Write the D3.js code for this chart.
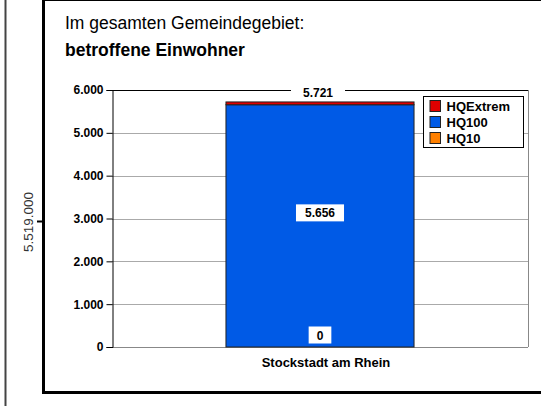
<!DOCTYPE html>
<html>
<head>
<meta charset="utf-8">
<script src="https://cdn.jsdelivr.net/npm/d3@7"></script>
<style>
    body { margin: 0; background: #fff; }
    svg { display: block; font-family: "Liberation Sans", Arial, sans-serif; }
</style>
</head>
<body>
<svg id="chart" width="541" height="406"></svg>
<script>
// Data
const categories = ['Stockstadt am Rhein'];
const seriesNames = ['HQ10', 'HQ100', 'HQExtrem'];
const hq10 = [0];
const hq100 = [5656];
const hqExtrem = [65];
const totals = [5721];
const yTicks = [0, 1000, 2000, 3000, 4000, 5000, 6000];
const sideValue = '5.519.000';

const colors = { HQ10: '#ff8000', HQ100: '#005ae6', HQExtrem: '#e00000' };
const fmt = d3.format(',');
const de = v => fmt(v).replace(/,/g, '.');

const svg = d3.select('#chart');

// Outer frame
svg.append('line').attr('x1', 5.5).attr('x2', 5.5).attr('y1', 0).attr('y2', 406)
    .attr('stroke', '#444').attr('stroke-width', 2);
svg.append('line').attr('x1', 43.5).attr('x2', 43.5).attr('y1', 0).attr('y2', 394)
    .attr('stroke', '#000').attr('stroke-width', 3);
svg.append('line').attr('x1', 42).attr('x2', 541).attr('y1', 392.5).attr('y2', 392.5)
    .attr('stroke', '#000').attr('stroke-width', 3);
svg.append('line').attr('x1', 42).attr('x2', 541).attr('y1', 0.5).attr('y2', 0.5)
    .attr('stroke', '#000').attr('stroke-width', 1);

// Side value with small tick
svg.append('line').attr('x1', 37).attr('x2', 43).attr('y1', 221.5).attr('y2', 221.5)
    .attr('stroke', '#000').attr('stroke-width', 2);
svg.append('text')
    .attr('transform', 'translate(33,222) rotate(-90)')
    .attr('text-anchor', 'middle')
    .style('font-size', '13.5px').style('fill', '#333')
    .text(sideValue);

// Titles
svg.append('text').attr('x', 65).attr('y', 29)
    .style('font-size', '17.5px').text('Im gesamten Gemeindegebiet:');
svg.append('text').attr('x', 65).attr('y', 56)
    .style('font-size', '17.5px').style('font-weight', 'bold').text('betroffene Einwohner');

// Plot area
const plot = { left: 112, right: 528, top: 90, bottom: 347 };

const x = d3.scaleBand().domain(categories)
    .range([plot.left, plot.right]).paddingInner(0).paddingOuter(0.606);

const y = d3.scaleLinear().domain([0, 6000]).range([plot.bottom, plot.top]);

// Gridlines
svg.append('g').selectAll('line')
    .data(yTicks.filter(d => d > 0 && d < 6000))
    .enter().append('line')
    .attr('x1', plot.left).attr('x2', plot.right)
    .attr('y1', d => Math.round(y(d)) + 0.5).attr('y2', d => Math.round(y(d)) + 0.5)
    .attr('stroke', '#aaa').attr('stroke-width', 1);

// Plot borders
svg.append('line').attr('x1', plot.left).attr('x2', plot.right)
    .attr('y1', plot.top + 0.5).attr('y2', plot.top + 0.5).attr('stroke', '#000');
svg.append('line').attr('x1', plot.right + 0.5).attr('x2', plot.right + 0.5)
    .attr('y1', plot.top).attr('y2', plot.bottom).attr('stroke', '#888');
svg.append('line').attr('x1', plot.left).attr('x2', plot.right)
    .attr('y1', plot.bottom + 0.5).attr('y2', plot.bottom + 0.5).attr('stroke', '#888');

// Y axis
const yAxis = d3.axisLeft(y).tickValues(yTicks).tickSize(6).tickPadding(3).tickFormat(de);
svg.append('g').attr('transform', `translate(${plot.left + 0.5},0)`)
    .call(yAxis)
    .call(g => g.selectAll('text').style('font-size', '12px').style('font-weight', 'bold')
        .style('font-family', '"Liberation Sans", Arial, sans-serif').attr('fill', '#000'));

// Stacked bars
const rows = categories.map((c, i) => ({ cat: c, HQ10: hq10[i], HQ100: hq100[i], HQExtrem: hqExtrem[i] }));
const stack = d3.stack().keys(seriesNames)(rows);

svg.append('g').selectAll('g')
    .data(stack).enter().append('g')
    .attr('fill', d => colors[d.key])
    .selectAll('rect').data(d => d).enter().append('rect')
    .attr('x', d => x(d.data.cat))
    .attr('width', x.bandwidth())
    .attr('y', d => y(d[1]))
    .attr('height', d => Math.max(0, y(d[0]) - y(d[1])))
    .attr('stroke', '#222').attr('stroke-width', 1);

// Value labels with white boxes
function label(xc, yc, txt, padX) {
    const g = svg.append('g');
    const t = g.append('text').attr('x', xc).attr('y', yc + 4.5)
        .attr('text-anchor', 'middle')
        .style('font-size', '12px').style('font-weight', 'bold').text(txt);
    const w = t.node().getComputedTextLength();
    g.insert('rect', 'text').attr('x', xc - w / 2 - padX).attr('y', yc - 8.5)
        .attr('width', w + 2 * padX).attr('height', 17).attr('fill', '#fff');
}
categories.forEach((c, i) => {
    const xc = x(c) + x.bandwidth() / 2;
    label(xc, y(hq10[i]) - 12, de(hq10[i]), 8);
    label(xc, y(hq10[i] + hq100[i] / 2) - 13, de(hq100[i]), 9);
    label(xc - 2, plot.top + 2, de(totals[i]), 12);
});

// X axis label
svg.append('text').attr('x', 326).attr('y', 367)
    .attr('text-anchor', 'middle')
    .style('font-size', '13px').style('font-weight', 'bold')
    .text(categories[0]);

// Legend
const legendItems = ['HQExtrem', 'HQ100', 'HQ10'];
const lg = svg.append('g').attr('transform', 'translate(423.5,96.5)');
lg.append('rect').attr('width', 100).attr('height', 51)
    .attr('fill', '#fff').attr('stroke', '#000');
legendItems.forEach((k, i) => {
    lg.append('rect').attr('x', 6.5).attr('y', 4 + i * 16)
        .attr('width', 10.5).attr('height', 11)
        .attr('fill', colors[k]).attr('stroke', '#222');
    lg.append('text').attr('x', 23).attr('y', 14.5 + i * 16)
        .style('font-size', '13px').style('font-weight', 'bold').text(k);
});
</script>
</body>
</html>
